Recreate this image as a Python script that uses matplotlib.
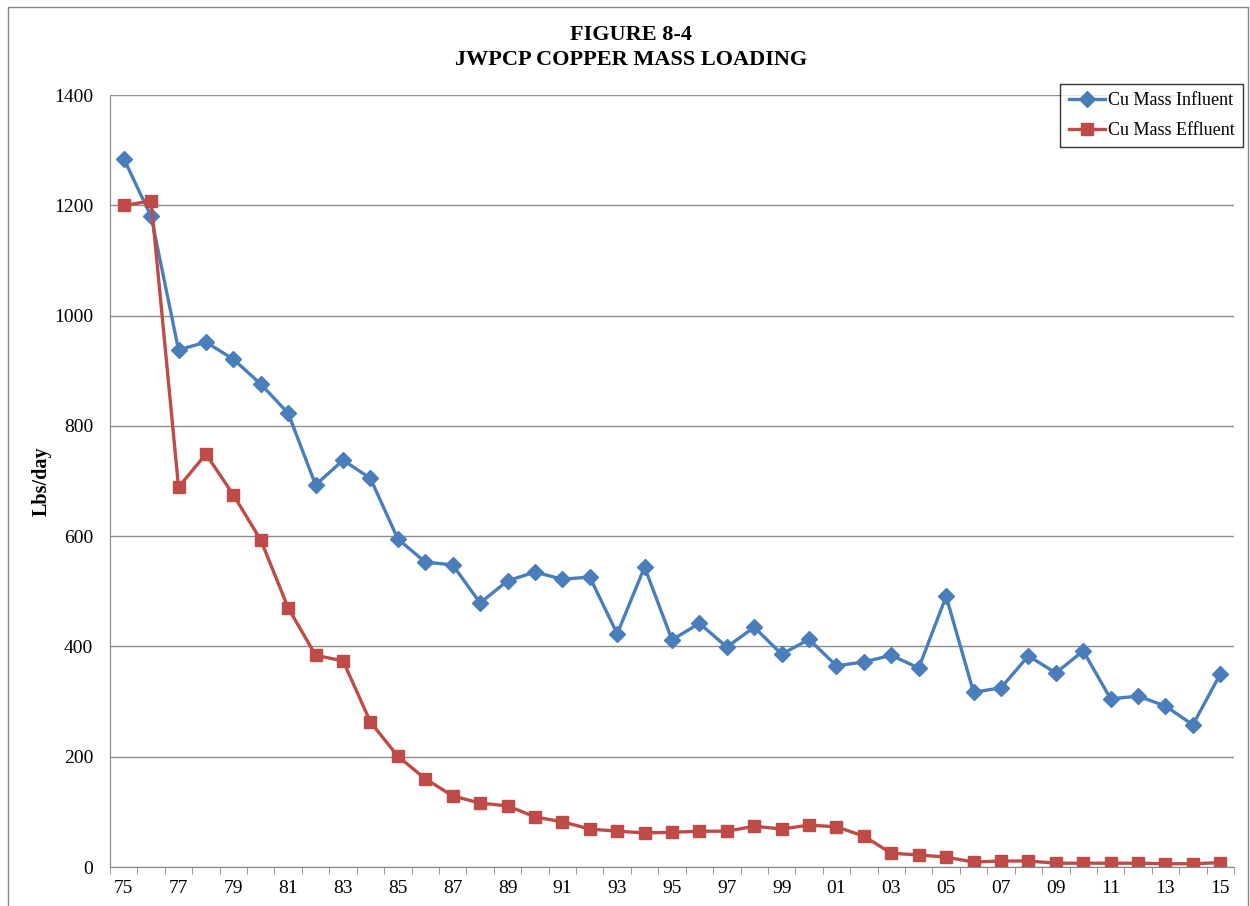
import matplotlib.pyplot as plt
import numpy as np
from matplotlib.patches import Rectangle

plt.rcParams['font.family'] = ['Liberation Serif', 'DejaVu Serif']

# 数据
years = list(range(1975, 2016))
year_labels = ['%02d' % (y % 100) for y in years]

influent = [1285, 1180, 938, 952, 921, 876, 823, 693, 738, 705,
            595, 553, 548, 479, 519, 535, 522, 526, 423, 544,
            412, 442, 399, 435, 386, 413, 365, 372, 384, 361,
            491, 317, 325, 383, 352, 392, 305, 310, 292, 258, 350]
effluent = [1200, 1208, 689, 749, 675, 593, 470, 384, 374, 263,
            201, 160, 129, 116, 111, 91, 82, 69, 65, 62,
            63, 65, 65, 74, 69, 76, 73, 56, 25, 22,
            18, 9, 11, 11, 7, 7, 7, 7, 6, 6, 8]

fig = plt.figure(figsize=(12.5, 9.06), dpi=100)
ax = fig.add_axes([0.088, 0.043, 0.8992, 0.852])

x = np.arange(len(years))
ax.plot(x, influent, color='#4A7EBB', linewidth=2.4, marker='D', markersize=8,
        label='Cu Mass Influent')
ax.plot(x, effluent, color='#BE4B48', linewidth=2.4, marker='s', markersize=9,
        label='Cu Mass Effluent')

ax.set_xlim(-0.5, len(years) - 0.5)
ax.set_ylim(0, 1400)
ax.set_yticks(range(0, 1401, 200))
ax.yaxis.grid(True, color='#8c8c8c', linewidth=1)
ax.set_axisbelow(True)

ax.set_xticks(x[::2])
ax.set_xticklabels(year_labels[::2])
ax.set_xticks(np.arange(-0.5, len(years), 1), minor=True)
ax.tick_params(axis='x', which='major', length=0, labelsize=14, pad=9)
ax.tick_params(axis='x', which='minor', length=5, color='#868686', direction='out')
ax.tick_params(axis='y', length=0, labelsize=14, pad=12)

for s in ['top', 'right']:
    ax.spines[s].set_visible(False)
for s in ['left', 'bottom']:
    ax.spines[s].set_color('#868686')

ax.set_ylabel('Lbs/day', fontsize=14.5, fontweight='bold', labelpad=2)

fig.text(0.505, 0.9614, 'FIGURE 8-4', ha='center', va='center', fontsize=16, fontweight='bold')
fig.text(0.505, 0.9338, 'JWPCP COPPER MASS LOADING', ha='center', va='center', fontsize=16, fontweight='bold')

leg = fig.legend(loc='upper right', bbox_to_anchor=(0.9945, 0.907), fontsize=13,
                 frameon=True, fancybox=False, edgecolor='black', handlelength=2.0,
                 borderpad=0.45, labelspacing=0.7, handletextpad=0.2, borderaxespad=0)
leg.get_frame().set_linewidth(1)

# 外框
fig.patches.append(Rectangle((0.006, -0.02), 0.992, 1.012, transform=fig.transFigure,
                             fill=False, edgecolor='#868686', linewidth=1))

plt.savefig('out.png', dpi=100)
